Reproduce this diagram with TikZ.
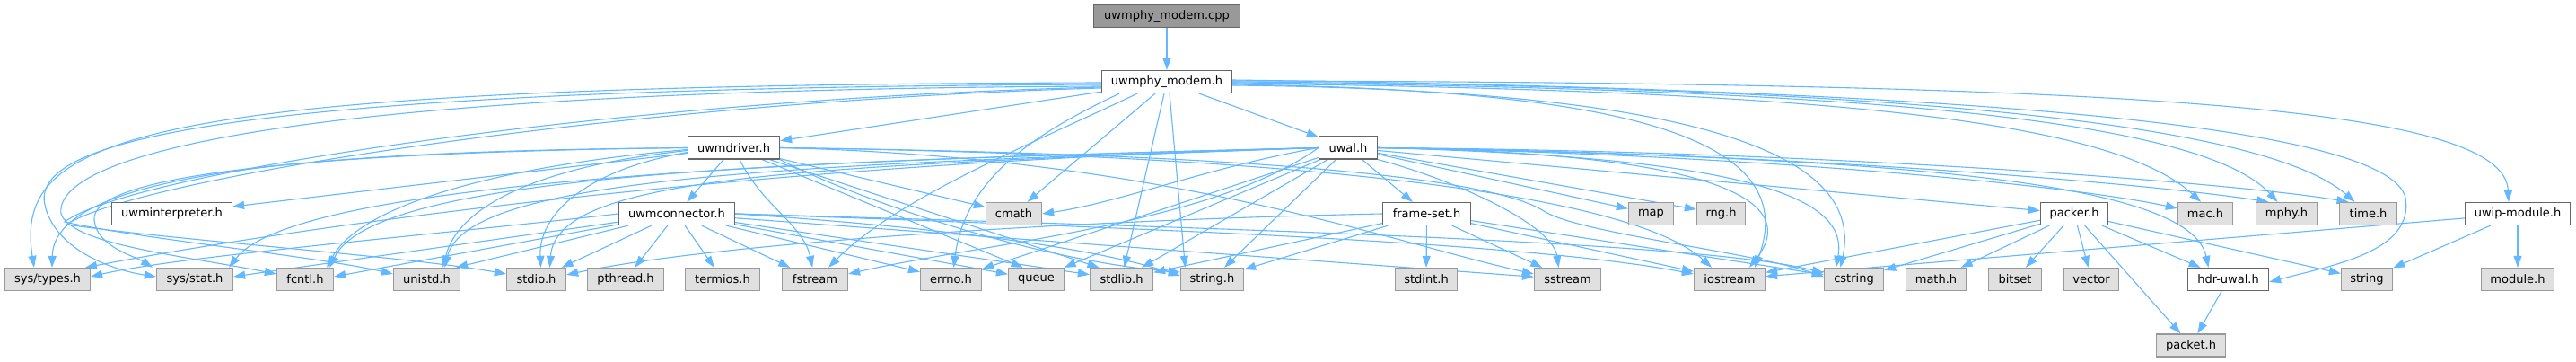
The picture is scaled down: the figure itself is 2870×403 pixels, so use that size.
\documentclass[tikz,border=0pt]{standalone}
\usepackage{fontspec}
\setmainfont{DejaVu Sans}
\usetikzlibrary{arrows.meta,backgrounds}
\definecolor{edgec}{HTML}{63B8FF}
\definecolor{docb}{HTML}{666666}
\definecolor{extf}{HTML}{E0E0E0}
\definecolor{extb}{HTML}{999999}
\definecolor{rootf}{HTML}{999999}
\begin{document}
\begin{tikzpicture}[x=1pt,y=-1pt,
  nd/.style={draw=docb,line width=1.3pt,fill=white,minimum height=25pt,inner sep=0pt,font=\fontsize{13}{15}\selectfont},
  ext/.style={nd,draw=extb,fill=extf},
  rootnd/.style={nd,fill=rootf},
  e/.style={draw=edgec,line width=1.1pt,-{Triangle[length=13pt,width=9pt]}},
]
\useasboundingbox (0,0) rectangle (2870,403);
% rank 0,1,2
\node[rootnd,minimum width=163pt] (cpp) at (1300,18) {uwmphy\_modem.cpp};
\node[nd,minimum width=145pt] (modem) at (1300,91) {uwmphy\_modem.h};
\node[nd,minimum width=102pt] (uwmdriver) at (817.5,164.5) {uwmdriver.h};
\node[nd,minimum width=65pt] (uwal) at (1502,164.5) {uwal.h};
% rank 3
\node[nd,minimum width=134pt] (uwminterp) at (191.5,238) {uwminterpreter.h};
\node[nd,minimum width=129pt] (uwmconn) at (754,238) {uwmconnector.h};
\node[ext,minimum width=62pt] (cmath) at (1129.5,238) {cmath};
\node[nd,minimum width=98pt] (frameset) at (1589.5,238) {frame-set.h};
\node[ext,minimum width=50pt] (map) at (1839.5,238) {map};
\node[ext,minimum width=54pt] (rng) at (1917.5,238) {rng.h};
\node[nd,minimum width=75pt] (packer) at (2311,238) {packer.h};
\node[ext,minimum width=61pt] (mac) at (2457,238) {mac.h};
\node[ext,minimum width=68pt] (mphy) at (2547.5,238) {mphy.h};
\node[ext,minimum width=64pt] (time) at (2638.5,238) {time.h};
\node[nd,minimum width=117pt] (uwip) at (2805,238) {uwip-module.h};
% rank 4
\node[ext,minimum width=95pt] (systypes) at (53,311) {sys/types.h};
\node[ext,minimum width=85pt] (sysstat) at (217,311) {sys/stat.h};
\node[ext,minimum width=63pt] (fcntl) at (340,311) {fcntl.h};
\node[ext,minimum width=74pt] (unistd) at (475.5,311) {unistd.h};
\node[ext,minimum width=66pt] (stdio) at (597.5,311) {stdio.h};
\node[ext,minimum width=85pt] (pthread) at (697,311) {pthread.h};
\node[ext,minimum width=83pt] (termios) at (805,311) {termios.h};
\node[ext,minimum width=73pt] (fstream) at (908,311) {fstream};
\node[ext,minimum width=68pt] (errno) at (1059.5,311) {errno.h};
\node[ext,minimum width=62pt] (queue) at (1154.5,311) {queue};
\node[ext,minimum width=70pt] (stdlib) at (1249.5,311) {stdlib.h};
\node[ext,minimum width=70pt] (stringh) at (1350.5,311) {string.h};
\node[ext,minimum width=69pt] (stdint) at (1589,311) {stdint.h};
\node[ext,minimum width=74pt] (sstream) at (1746.5,311) {sstream};
\node[ext,minimum width=79pt] (iostream) at (1927,311) {iostream};
\node[ext,minimum width=66pt] (cstring) at (2065.5,311) {cstring};
\node[ext,minimum width=67pt] (mathh) at (2157,311) {math.h};
\node[ext,minimum width=59pt] (bitset) at (2245,311) {bitset};
\node[ext,minimum width=61pt] (vector) at (2330,311) {vector};
\node[nd,minimum width=90pt] (hdruwal) at (2482.5,311) {hdr-uwal.h};
\node[ext,minimum width=57pt] (string) at (2637,311) {string};
\node[ext,minimum width=81pt] (module) at (2805,311) {module.h};
% rank 5
\node[ext,minimum width=77pt] (packet) at (2441,384.5) {packet.h};

\begin{scope}[on background layer]
\fill[white] (0,0) rectangle (2870,403);
% root
\draw[e] (cpp) -- (modem);
% uwmphy_modem.h
\draw[e] (modem) -- (uwmdriver);
\draw[e] (modem) -- (uwal);
\draw[e] ([yshift=-1]modem.west) .. controls (150,95) and (15,150) .. ([xshift=-15]systypes.north);
\draw[e] ([yshift=-3]modem.west) .. controls (220,98) and (35,160) .. (50,228) .. controls (60,275) and (120,300) .. ([yshift=3]sysstat.west);
\draw[e] ([yshift=-5]modem.west) .. controls (300,100) and (60,175) .. (68,238) .. controls (80,272) and (200,284) .. ([yshift=6]fcntl.west);
\draw[e] ([yshift=-6]modem.west) .. controls (700,110) and (150,190) .. (72,247) .. controls (150,265) and (350,285) .. ([yshift=6]unistd.west);
\draw[e] ([yshift=-7]modem.west) .. controls (720,112) and (160,195) .. (74,250) .. controls (200,268) and (450,285) .. ([yshift=6]stdio.west);
\draw[e] ([xshift=-33]modem.south) .. controls (1150,160) and (1000,220) .. ([xshift=15]fstream.north);
\draw[e] ([xshift=-53]modem.south) .. controls (1150,150) and (1075,200) .. ([xshift=3]errno.north);
\draw[e] ([xshift=-13]modem.south) -- ([xshift=15]cmath.north);
\draw[e] ([xshift=-3]modem.south) -- ([xshift=3]stdlib.north);
\draw[e] ([xshift=3]modem.south) -- ([xshift=-30]stringh.north);
\draw[e] ([yshift=-2]modem.east) .. controls (2000,100) and (2350,130) .. ([xshift=-5]mac.north);
\draw[e] ([yshift=-1]modem.east) .. controls (2050,98) and (2450,130) .. ([xshift=-10]mphy.north);
\draw[e] (modem.east) .. controls (2100,96) and (2520,135) .. ([xshift=-15]time.north);
\draw[e] ([yshift=1]modem.east) .. controls (2400,92) and (2790,120) .. ([xshift=-10]uwip.north);
\draw[e] ([yshift=2]modem.east) .. controls (2200,100) and (2660,140) .. (2680,220) .. controls (2690,280) and (2600,295) .. ([yshift=-3]hdruwal.east);
\draw[e] ([yshift=-3]modem.east) .. controls (1800,100) and (2010,150) .. ([xshift=28]iostream.north);
\draw[e] ([yshift=-4]modem.east) .. controls (1850,100) and (2080,160) .. ([xshift=-15]cstring.north);
% uwal.h
\draw[e] (uwal) -- (frameset);
\draw[e] (uwal) -- (map);
\draw[e] (uwal) -- (rng);
\draw[e] (uwal) -- (packer);
\draw[e] (uwal.east) .. controls (1950,172) and (2300,205) .. ([yshift=6]mac.west);
\draw[e] (uwal.east) .. controls (2000,170) and (2400,205) .. ([xshift=-20]mphy.north);
\draw[e] (uwal.east) .. controls (2050,168) and (2500,205) .. ([xshift=-22]time.north);
\draw[e] (uwal.east) .. controls (2100,175) and (2440,200) .. ([xshift=-22]hdruwal.north);
\draw[e] (uwal.south east) .. controls (1620,200) and (1730,250) .. ([xshift=-10]sstream.north);
\draw[e] (uwal.east) .. controls (1900,170) and (2010,220) .. ([xshift=22]iostream.north);
\draw[e] (uwal.east) .. controls (1950,175) and (2060,220) .. ([xshift=-20]cstring.north);
\draw[e] (uwal) -- (stringh);
\draw[e] (uwal) -- (stdlib);
\draw[e] (uwal) -- (queue);
\draw[e] (uwal) -- (errno);
\draw[e] (uwal.west) .. controls (1350,185) and (1250,225) .. (cmath.east);
\draw[e] (uwal.west) .. controls (1350,250) and (1100,270) .. ([yshift=6]fstream.east);
\draw[e] (uwal.west) .. controls (900,185) and (620,195) .. ([xshift=15]stdio.north);
\draw[e] (uwal.west) .. controls (900,183) and (520,195) .. ([xshift=20]unistd.north);
\draw[e] (uwal.west) .. controls (900,180) and (420,190) .. ([xshift=-5]fcntl.north east);
\draw[e] (uwal.west) .. controls (900,178) and (330,200) .. ([xshift=-5]sysstat.north east);
\draw[e] (uwal.west) .. controls (900,180) and (400,240) .. ([xshift=42]systypes.north);
% uwmdriver.h
\draw[e] (uwmdriver) -- (uwmconn);
\draw[e] (uwmdriver) -- ([yshift=8]uwminterp.east);
\draw[e] (uwmdriver.west) .. controls (400,168) and (60,185) .. ([xshift=5]systypes.north);
\draw[e] (uwmdriver.west) .. controls (300,170) and (100,200) .. (105,245) .. controls (108,275) and (150,285) .. ([xshift=-47]sysstat.north);
\draw[e] ([yshift=-2]uwmdriver.west) .. controls (550,185) and (400,230) .. ([xshift=-8]fcntl.north east);
\draw[e] ([yshift=-3]uwmdriver.west) .. controls (600,185) and (510,230) .. ([xshift=18]unistd.north);
\draw[e] ([yshift=-5]uwmdriver.west) .. controls (650,190) and (600,240) .. ([xshift=5]stdio.north);
\draw[e] (uwmdriver) .. controls (850,230) and (895,250) .. (fstream);
\draw[e] (uwmdriver) -- (cmath);
\draw[e] (uwmdriver) -- ([xshift=-15]queue.north);
\draw[e] (uwmdriver) -- ([xshift=-25]stdlib.north);
\draw[e] (uwmdriver.south east) .. controls (950,220) and (1150,290) .. ([yshift=8]stringh.west);
\draw[e] (uwmdriver.east) .. controls (1300,175) and (1550,270) .. ([yshift=6]sstream.west);
\draw[e] (uwmdriver.east) .. controls (1300,170) and (1800,200) .. ([xshift=-20]iostream.north);
\draw[e] (uwmdriver.east) .. controls (1300,170) and (1650,190) .. (1720,235) .. controls (1760,260) and (1950,280) .. ([yshift=3]cstring.west);
% uwmconnector.h
\foreach \t in {pthread,termios,fstream,errno,queue,stdlib}
  \draw[e] (uwmconn) -- (\t);
\draw[e] (uwmconn.east) .. controls (1000,250) and (1200,270) .. ([yshift=4]stringh.west);
\draw[e] (uwmconn.west) .. controls (500,260) and (200,285) .. ([yshift=3]systypes.east);
\draw[e] (uwmconn) -- ([yshift=3]sysstat.east);
\draw[e] (uwmconn) -- ([yshift=3]fcntl.east);
\draw[e] (uwmconn) -- ([xshift=-5]unistd.north east);
\draw[e] (uwmconn) -- (stdio);
\draw[e] (uwmconn) -- (sstream);
\draw[e] (uwmconn.east) .. controls (1300,255) and (1700,270) .. ([yshift=6]iostream.west);
\draw[e] (uwmconn.east) .. controls (1400,255) and (1900,270) .. ([yshift=7]cstring.west);
% frame-set.h
\draw[e] (frameset) -- (stdint);
\draw[e] (frameset) -- (sstream);
\draw[e] (frameset) -- (iostream);
\draw[e] (frameset) -- (cstring);
\draw[e] (frameset) -- (stringh);
\draw[e] (frameset) -- (stdlib);
\draw[e] (frameset.west) .. controls (1200,245) and (800,270) .. ([yshift=5]stdio.east);
% packer.h
\foreach \t in {mathh,bitset,vector,hdruwal,string,iostream,cstring,packet}
  \draw[e] (packer) -- (\t);
% uwip-module.h
\draw[e] (uwip) -- (iostream);
\draw[e] (uwip) -- (string);
\draw[e] (uwip) -- (module);
% hdr-uwal.h
\draw[e] (hdruwal) -- (packet);
\end{scope}
\end{tikzpicture}
\end{document}
